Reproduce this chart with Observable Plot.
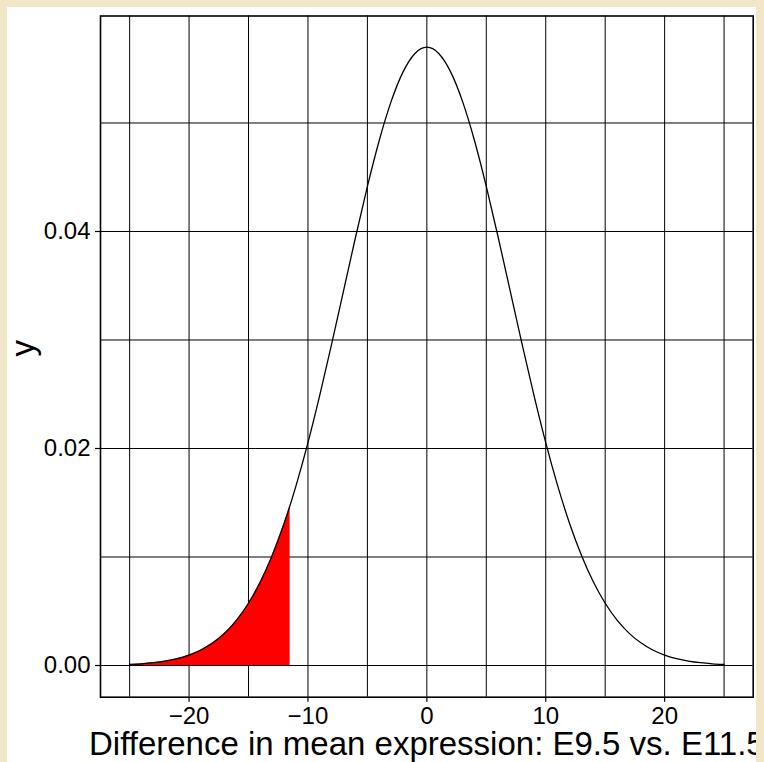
<!DOCTYPE html>
<html>
<head>
<meta charset="utf-8">
<script src="https://cdn.jsdelivr.net/npm/d3@7"></script>
<script src="https://cdn.jsdelivr.net/npm/@observablehq/plot@0.6"></script>
<style>
  html, body { margin: 0; padding: 0; }
  body { width: 764px; height: 762px; background: #EFE7C7; position: relative; overflow: hidden; }
  #card { position: absolute; left: 7px; top: 7px; width: 749px; height: 755px; background: #ffffff; overflow: hidden; }
  #card svg { display: block; max-width: none !important; width: 764px !important; height: 755px !important; }
</style>
</head>
<body>
<div id="card"></div>
<script>
// Density curve (x = difference, y = density)
const curveX = [-25,-24,-23,-22,-21,-20,-19,-18,-17,-16,-15,-14,-13,-12,-11,-10,-9,-8,-7,-6,-5,-4,-3,-2,-1,0,
                1,2,3,4,5,6,7,8,9,10,11,12,13,14,15,16,17,18,19,20,21,22,23,24,25];
const curveY = [0.000097,0.000160,0.000258,0.000408,0.000633,0.000962,0.001432,0.002090,0.002986,0.004181,
                0.005737,0.007713,0.01016,0.01311,0.01658,0.02054,0.02494,0.02966,0.03457,0.03947,
                0.04415,0.04841,0.05199,0.05471,0.05641,0.05699,
                0.05641,0.05471,0.05199,0.04841,0.04415,0.03947,0.03457,0.02966,0.02494,0.02054,
                0.01658,0.01311,0.01016,0.007713,0.005737,0.004181,0.002986,0.002090,0.001432,0.000962,
                0.000633,0.000408,0.000258,0.000160,0.000097];
// Shaded lower tail (red) up to the observed difference
const tailX = [-25,-24,-23,-22,-21,-20,-19,-18,-17,-16,-15,-14,-13,-12,-11.5];
const tailY = [0.000097,0.000160,0.000258,0.000408,0.000633,0.000962,0.001432,0.002090,0.002986,0.004181,
               0.005737,0.007713,0.01016,0.01311,0.01478];
// Grid and ticks
const gridX = [-25,-20,-15,-10,-5,0,5,10,15,20,25];
const gridY = [0,0.01,0.02,0.03,0.04,0.05];
const xTicks = [-20,-10,0,10,20];
const yTicks = [0,0.02,0.04];
const xLabel = "Difference in mean expression: E9.5 vs. E11.5";
const yLabel = "y";

const curve = curveX.map((x, i) => ({x, y: curveY[i]}));
const tail = tailX.map((x, i) => ({x, y: tailY[i]}));

const font = "'Liberation Sans', Arial, Helvetica, sans-serif";

const chart = Plot.plot({
  width: 764,
  height: 755,
  marginLeft: 93,
  marginRight: 18.3,
  marginTop: 8.5,
  marginBottom: 65.3,
  style: {fontFamily: font, background: "transparent", color: "black", overflow: "visible", maxWidth: "none"},
  x: {domain: [-27.45, 27.45]},
  y: {domain: [-0.00292, 0.05986]},
  marks: [
    Plot.ruleX(gridX, {stroke: "black", strokeWidth: 1}),
    Plot.ruleY(gridY, {stroke: "black", strokeWidth: 1}),
    Plot.areaY(tail, {x: "x", y: "y", fill: "red", curve: "natural"}),
    Plot.line(curve, {x: "x", y: "y", stroke: "black", strokeWidth: 1.3, curve: "natural"}),
    Plot.frame({stroke: "black", strokeWidth: 1.6}),
    Plot.axisX(xTicks, {tickSize: 5, tickPadding: 5, fontSize: 24, label: null, stroke: "black", strokeWidth: 1.2, tickFormat: d => d3.format("d")(d)}),
    Plot.axisY(yTicks, {tickSize: 5, tickPadding: 5, fontSize: 24, label: null, stroke: "black", strokeWidth: 1.2, tickFormat: d3.format(".2f")}),
    Plot.text([xLabel], {frameAnchor: "bottom", dy: 57.3, lineAnchor: "bottom", fontSize: 33, fill: "black"}),
    Plot.text([yLabel], {frameAnchor: "left", dx: -67, rotate: -90, lineAnchor: "bottom", fontSize: 33, fill: "black"})
  ]
});
document.getElementById("card").appendChild(chart);
</script>
</body>
</html>
